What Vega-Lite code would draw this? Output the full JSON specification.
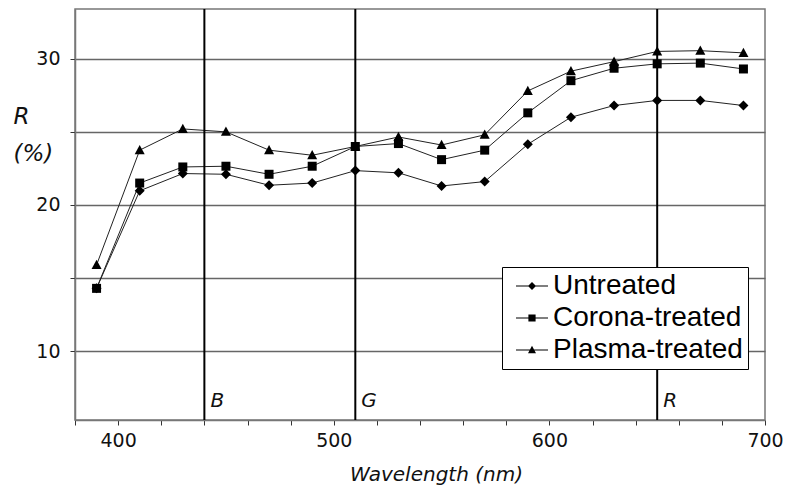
{
  "$schema": "https://vega.github.io/schema/vega-lite/v6.json",
  "width": 690,
  "height": 411,
  "autosize": {"type": "none"},
  "padding": {"left": 75, "top": 9, "right": 22, "bottom": 68},
  "background": "white",
  "config": {
    "view": {"stroke": "#777", "strokeWidth": 1.5},
    "font": "DejaVu Sans"
  },
  "datasets": {
    "spectra": [
      {"wl": 390, "series": "Untreated", "R": 14.3},
      {"wl": 410, "series": "Untreated", "R": 20.97},
      {"wl": 430, "series": "Untreated", "R": 22.15},
      {"wl": 450, "series": "Untreated", "R": 22.1},
      {"wl": 470, "series": "Untreated", "R": 21.35},
      {"wl": 490, "series": "Untreated", "R": 21.5},
      {"wl": 510, "series": "Untreated", "R": 22.35},
      {"wl": 530, "series": "Untreated", "R": 22.2},
      {"wl": 550, "series": "Untreated", "R": 21.3},
      {"wl": 570, "series": "Untreated", "R": 21.6},
      {"wl": 590, "series": "Untreated", "R": 24.15},
      {"wl": 610, "series": "Untreated", "R": 26.0},
      {"wl": 630, "series": "Untreated", "R": 26.8},
      {"wl": 650, "series": "Untreated", "R": 27.15},
      {"wl": 670, "series": "Untreated", "R": 27.15},
      {"wl": 690, "series": "Untreated", "R": 26.8},
      {"wl": 390, "series": "Corona-treated", "R": 14.3},
      {"wl": 410, "series": "Corona-treated", "R": 21.5},
      {"wl": 430, "series": "Corona-treated", "R": 22.6},
      {"wl": 450, "series": "Corona-treated", "R": 22.65},
      {"wl": 470, "series": "Corona-treated", "R": 22.1},
      {"wl": 490, "series": "Corona-treated", "R": 22.65},
      {"wl": 510, "series": "Corona-treated", "R": 24.0},
      {"wl": 530, "series": "Corona-treated", "R": 24.2},
      {"wl": 550, "series": "Corona-treated", "R": 23.1},
      {"wl": 570, "series": "Corona-treated", "R": 23.75},
      {"wl": 590, "series": "Corona-treated", "R": 26.3},
      {"wl": 610, "series": "Corona-treated", "R": 28.5},
      {"wl": 630, "series": "Corona-treated", "R": 29.35},
      {"wl": 650, "series": "Corona-treated", "R": 29.65},
      {"wl": 670, "series": "Corona-treated", "R": 29.7},
      {"wl": 690, "series": "Corona-treated", "R": 29.3},
      {"wl": 390, "series": "Plasma-treated", "R": 15.9},
      {"wl": 410, "series": "Plasma-treated", "R": 23.75},
      {"wl": 430, "series": "Plasma-treated", "R": 25.2},
      {"wl": 450, "series": "Plasma-treated", "R": 25.0},
      {"wl": 470, "series": "Plasma-treated", "R": 23.75},
      {"wl": 490, "series": "Plasma-treated", "R": 23.4},
      {"wl": 510, "series": "Plasma-treated", "R": 24.0},
      {"wl": 530, "series": "Plasma-treated", "R": 24.65},
      {"wl": 550, "series": "Plasma-treated", "R": 24.1},
      {"wl": 570, "series": "Plasma-treated", "R": 24.8},
      {"wl": 590, "series": "Plasma-treated", "R": 27.8},
      {"wl": 610, "series": "Plasma-treated", "R": 29.15},
      {"wl": 630, "series": "Plasma-treated", "R": 29.8},
      {"wl": 650, "series": "Plasma-treated", "R": 30.5},
      {"wl": 670, "series": "Plasma-treated", "R": 30.55},
      {"wl": 690, "series": "Plasma-treated", "R": 30.4}
    ],
    "bands": [
      {"band": "B", "wl": 440},
      {"band": "G", "wl": 510},
      {"band": "R", "wl": 650}
    ]
  },
  "resolve": {"scale": {"shape": "independent"}, "legend": {"shape": "independent"}},
  "layer": [
    {
      "data": {"name": "spectra"},
      "mark": {"type": "line", "color": "#222", "strokeWidth": 1},
      "encoding": {
        "x": {
          "field": "wl", "type": "quantitative",
          "scale": {"domain": [380, 700], "nice": false, "zero": false},
          "axis": {
            "title": "Wavelength (nm)",
            "values": [380, 400, 420, 440, 460, 480, 500, 520, 540, 560, 580, 600, 620, 640, 660, 680, 700],
            "labelExpr": "datum.value % 100 === 0 ? datum.label : ''",
            "grid": false,
            "domainColor": "#777", "domainWidth": 1.5,
            "tickColor": "#333", "tickSize": 5, "tickWidth": 1,
            "labelFont": "DejaVu Sans", "labelFontSize": 19, "labelColor": "#111",
            "labelPadding": 6, "labelFlush": false, "labelOverlap": false,
            "titleFont": "DejaVu Sans", "titleFontStyle": "italic", "titleFontWeight": "normal",
            "titleFontSize": 20, "titleColor": "#111",
            "titleX": 361, "titleY": 60, "titleBaseline": "alphabetic", "titleAnchor": "middle"
          }
        },
        "y": {
          "field": "R", "type": "quantitative",
          "scale": {"domain": [5.3, 33.4], "nice": false, "zero": false},
          "axis": {
            "title": ["R", "(%)"],
            "values": [10, 15, 20, 25, 30],
            "labelExpr": "datum.value % 10 === 0 ? datum.label : ''",
            "grid": true, "gridColor": "#666", "gridWidth": 1.5,
            "domainColor": "#777", "domainWidth": 1.5,
            "tickColor": "#333", "tickSize": 5, "tickWidth": 1,
            "labelFont": "DejaVu Sans", "labelFontSize": 19, "labelColor": "#111",
            "labelPadding": 10,
            "titleAngle": 0, "titleAlign": "left", "titleBaseline": "alphabetic",
            "titleX": -62, "titleY": 114, "titleLineHeight": 37,
            "titleFont": "DejaVu Sans", "titleFontStyle": "italic", "titleFontWeight": "normal",
            "titleFontSize": 23, "titleColor": "#111"
          }
        },
        "detail": {"field": "series"}
      }
    },
    {
      "data": {"name": "bands"},
      "mark": {"type": "rule", "color": "#000", "strokeWidth": 2},
      "encoding": {
        "x": {"field": "wl", "type": "quantitative"}
      }
    },
    {
      "data": {"name": "bands"},
      "mark": {"type": "text", "align": "left", "baseline": "middle", "dx": 6, "font": "DejaVu Sans", "fontStyle": "italic", "fontSize": 20, "color": "#111"},
      "encoding": {
        "x": {"field": "wl", "type": "quantitative"},
        "y": {"datum": 6.6},
        "text": {"field": "band"}
      }
    },
    {
      "data": {"name": "spectra"},
      "mark": {"type": "point", "filled": true, "size": 100, "color": "#000", "opacity": 1},
      "encoding": {
        "x": {"field": "wl", "type": "quantitative"},
        "y": {"field": "R", "type": "quantitative"},
        "shape": {
          "field": "series", "type": "nominal",
          "scale": {
            "domain": ["Untreated", "Corona-treated", "Plasma-treated"],
            "range": ["M0,-1L1,0L0,1L-1,0Z", "M-0.9,-0.9H0.9V0.9H-0.9Z", "M0,-1.05L1,0.8H-1Z"]
          },
          "legend": null
        }
      }
    },
    {
      "data": {"name": "spectra"},
      "mark": {"type": "point", "filled": true, "size": 64, "color": "#000", "opacity": 0},
      "encoding": {
        "x": {"field": "wl", "type": "quantitative"},
        "y": {"field": "R", "type": "quantitative"},
        "shape": {
          "field": "series", "type": "nominal",
          "scale": {
            "domain": ["Untreated", "Corona-treated", "Plasma-treated"],
            "range": [
              "M-1.25,-0.13H6.75V0.13H-1.25ZM2.75,-1L3.75,0L2.75,1L1.75,0Z",
              "M-1.25,-0.13H6.75V0.13H-1.25ZM1.85,-0.9H3.65V0.9H1.85Z",
              "M-1.25,-0.13H6.75V0.13H-1.25ZM2.75,-1.05L3.75,0.8H1.75Z"
            ]
          },
          "legend": {
            "title": null,
            "orient": "none",
            "legendX": 427,
            "legendY": 258,
            "padding": 5,
            "fillColor": "white",
            "strokeColor": "#000",
            "labelFont": "Liberation Sans",
            "labelFontSize": 28,
            "labelColor": "#000",
            "labelLimit": 400,
            "labelOffset": 18,
            "rowPadding": 4,
            "symbolSize": 64,
            "symbolOpacity": 1,
            "symbolFillColor": "#000",
            "symbolStrokeColor": "#000",
            "symbolStrokeWidth": 0,
            "encode": {
              "symbols": {
                "update": {
                  "opacity": {"value": 1},
                  "fill": {"value": "#000"}
                }
              }
            }
          }
        }
      }
    }
  ]
}
